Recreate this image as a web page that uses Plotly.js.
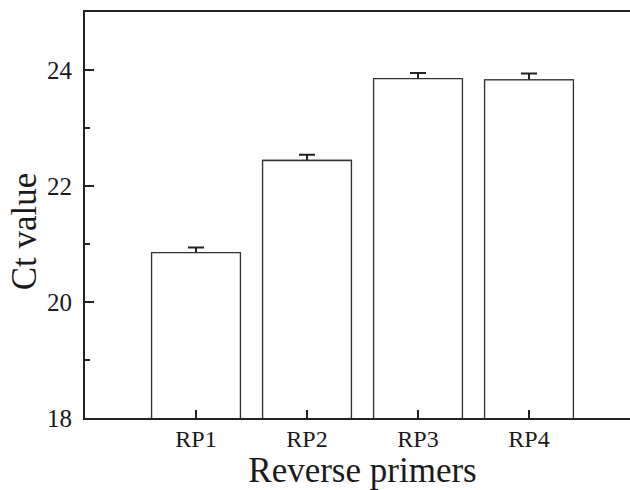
<!DOCTYPE html>
<html>
<head>
<meta charset="utf-8">
<script src="https://cdn.plot.ly/plotly-3.0.1.min.js"></script>
<style>html,body{margin:0;padding:0;background:#fff;overflow:hidden;width:630px;height:490px;}</style>
</head>
<body>
<div id="chart" style="width:640px;height:490px;"></div>
<script>
const categories = ["RP1", "RP2", "RP3", "RP4"];
const ctValues = [20.85, 22.44, 23.85, 23.83];
const ctErrors = [0.09, 0.10, 0.10, 0.11];
const yTickVals = [18, 20, 22, 24];
const xTitle = "Reverse primers";
const yTitle = "Ct value";

const serif = "Liberation Serif, Times New Roman, serif";
const ink = "#1a1a1a";

// bars carrying the error bars (lower half hidden by the cover bars drawn on top)
const errTrace = {
  type: "bar",
  x: categories,
  y: ctValues,
  width: 0.8,
  marker: {color: "#ffffff", line: {color: "#333333", width: 1.3}},
  error_y: {type: "data", array: ctErrors, color: "#222222", thickness: 2, width: 8},
  hoverinfo: "x+y"
};
const coverTrace = {
  type: "bar",
  x: categories,
  y: ctValues,
  width: 0.8,
  marker: {color: "#ffffff", line: {color: "#333333", width: 1.3}},
  hoverinfo: "skip"
};

const layout = {
  width: 640, height: 490,
  margin: {l: 85, r: 0, t: 12, b: 72, pad: 0},
  paper_bgcolor: "#ffffff", plot_bgcolor: "#ffffff",
  showlegend: false,
  barmode: "overlay",
  font: {family: serif, color: ink},
  xaxis: {
    type: "category",
    range: [-1, 4],
    showline: true, linecolor: "#222", linewidth: 2, mirror: true,
    ticks: "inside", ticklen: 8, tickwidth: 2, tickcolor: "#222",
    showgrid: false, zeroline: false,
    tickfont: {size: 24, family: serif, color: ink},
    ticklabelstandoff: -2,
    title: {text: xTitle, font: {size: 35, family: serif, color: ink}, standoff: 4}
  },
  yaxis: {
    range: [18, 25],
    tickvals: yTickVals,
    showline: true, linecolor: "#222", linewidth: 2, mirror: false,
    ticks: "inside", ticklen: 9, tickwidth: 2, tickcolor: "#222",
    minor: {dtick: 1, tick0: 18, ticks: "inside", ticklen: 5, tickwidth: 2, tickcolor: "#222", showgrid: false},
    showgrid: false, zeroline: false,
    tickfont: {size: 25, family: serif, color: ink},
    ticklabelstandoff: 6
  },
  annotations: [{
    text: yTitle, textangle: -90, showarrow: false,
    xref: "paper", yref: "paper", x: 0, y: 0.46,
    xshift: -61, xanchor: "center", yanchor: "middle",
    font: {size: 35, family: serif, color: ink}
  }]
};

Plotly.newPlot("chart", [errTrace, coverTrace], layout, {displayModeBar: false, staticPlot: true});
</script>
</body>
</html>
